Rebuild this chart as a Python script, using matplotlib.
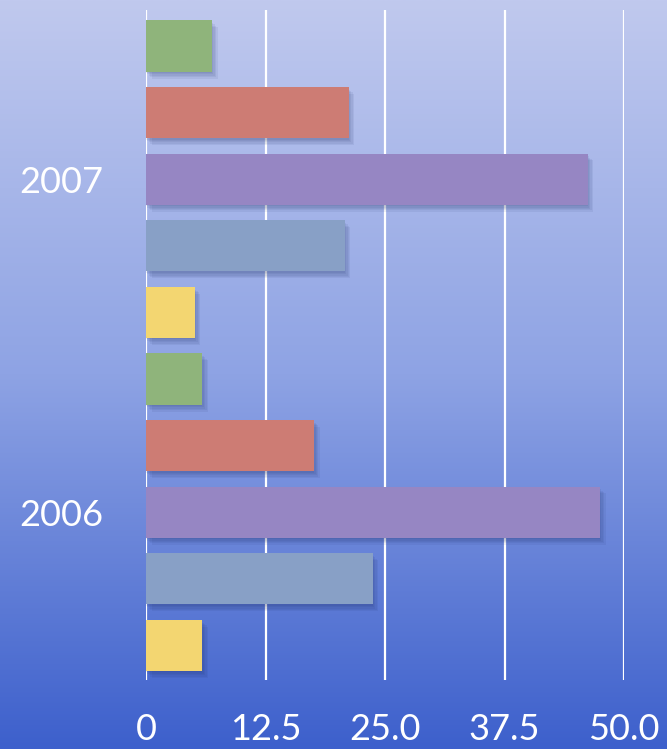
import numpy as np
import matplotlib
matplotlib.use('Agg')
import matplotlib.pyplot as plt
import matplotlib.patheffects as pe
from matplotlib.colors import LinearSegmentedColormap

plt.rcParams['font.family'] = ['Lato', 'DejaVu Sans']

# Data (bottom to top inside each year)
years = ['2006', '2007']
series_colors = ['#f3d671', '#88a0c6', '#9686c3', '#cd7c74', '#8fb47b']
values_2006 = [5.9, 23.7, 47.5, 17.6, 5.9]
values_2007 = [5.1, 20.8, 46.2, 21.2, 6.9]
xticks = [0, 12.5, 25.0, 37.5, 50.0]
xtick_labels = ['0', '12.5', '25.0', '37.5', '50.0']

fig = plt.figure(figsize=(6.67, 7.49), dpi=100)

# gradient background
bg = fig.add_axes([0, 0, 1, 1], zorder=-10)
cmap = LinearSegmentedColormap.from_list('bg', ['#c0c9ee', '#8ea3e4', '#3d60cc'])
grad = np.linspace(0, 1, 256).reshape(-1, 1)
bg.imshow(grad, aspect='auto', cmap=cmap, extent=[0, 1, 0, 1], origin='upper')
bg.axis('off')

ax = fig.add_axes([146 / 667, 69 / 749, 478 / 667, 670 / 749])
ax.patch.set_alpha(0)

# soft shadow: a few faint offset copies
shadow = [pe.SimplePatchShadow(offset=(o, -o - 1), shadow_rgbFace='#1a2a60', alpha=0.07)
          for o in (4, 3, 2, 1, 0)] + [pe.Normal()]

for g, vals in enumerate([values_2006, values_2007]):
    for i, v in enumerate(vals):
        b = ax.barh(g * 5 + i, v, height=0.77, color=series_colors[i], zorder=3)
        for p in b:
            p.set_path_effects(shadow)

for t in xticks:
    ax.axvline(t, color='white', lw=1.6, zorder=1)

ax.set_xlim(0, 50)
ax.set_ylim(-0.52, 9.54)
for s in ax.spines.values():
    s.set_visible(False)

ax.set_xticks(xticks)
ax.set_xticklabels(xtick_labels, color='white', fontsize=26)
ax.tick_params(axis='x', length=0, pad=24)
ax.set_yticks([2, 7])
ax.set_yticklabels(years, color='white', fontsize=26)
ax.tick_params(axis='y', length=0, pad=31)

fig.savefig('out.png', dpi=100)
